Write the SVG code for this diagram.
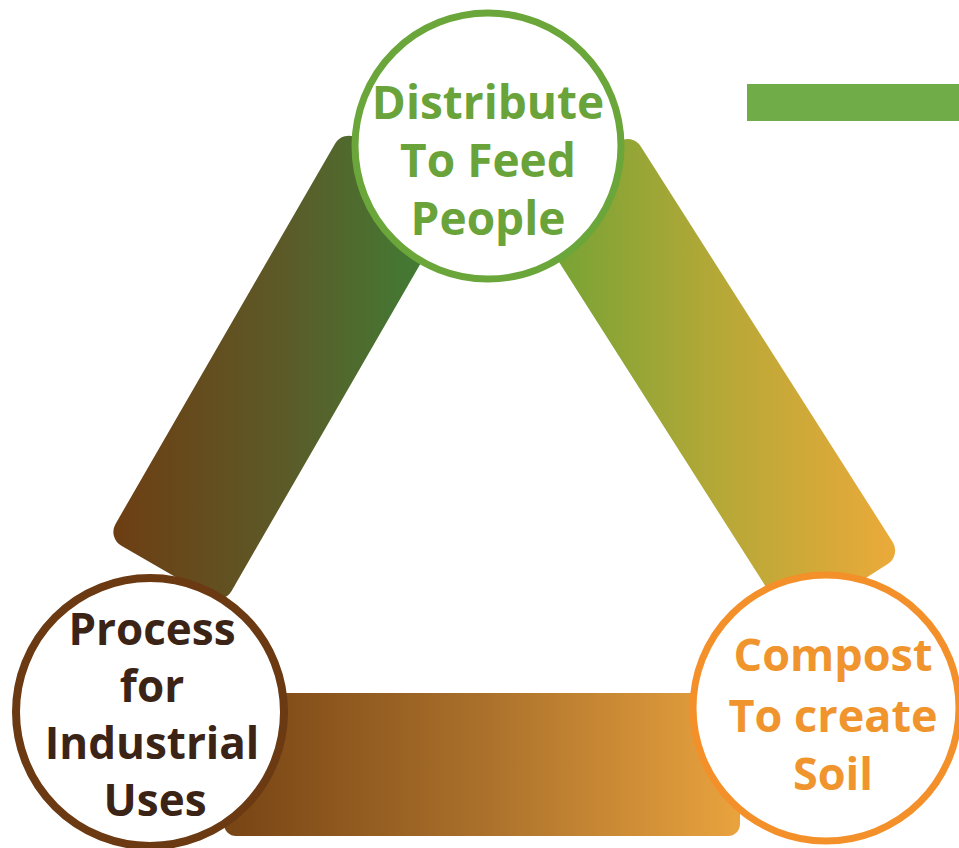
<svg xmlns="http://www.w3.org/2000/svg" width="959" height="848" viewBox="0 0 959 848">
  <style>
    .node-circle { fill: #ffffff; stroke-width: 7; }
    .label { font-family: "Open Sans", "Noto Sans", "Liberation Sans", sans-serif; font-weight: bold; text-anchor: middle; }
    .green-c { stroke: #6aa63a; }
    .brown-c { stroke: #6b3a12; stroke-width: 8; }
    .orange-c { stroke: #f4902a; }
    .green-t { fill: #69a33a; font-size: 46px; }
    .brown-t { fill: #3b2416; font-size: 44px; }
    .orange-t { fill: #f0952e; font-size: 45px; }
  </style>
  <defs>
    <linearGradient id="gL" gradientUnits="userSpaceOnUse" x1="107" y1="0" x2="460" y2="0">
      <stop offset="0" stop-color="#6e3d12"/>
      <stop offset="0.5" stop-color="#5c5a28"/>
      <stop offset="1" stop-color="#3b8438"/>
    </linearGradient>
    <linearGradient id="gR" gradientUnits="userSpaceOnUse" x1="521" y1="0" x2="905" y2="0">
      <stop offset="0" stop-color="#6aa234"/>
      <stop offset="0.5" stop-color="#b3a837"/>
      <stop offset="1" stop-color="#eeaa3a"/>
    </linearGradient>
    <linearGradient id="gB" gradientUnits="userSpaceOnUse" x1="224" y1="0" x2="740" y2="0">
      <stop offset="0" stop-color="#774414"/>
      <stop offset="0.5" stop-color="#aa702b"/>
      <stop offset="1" stop-color="#e9a33e"/>
    </linearGradient>
    <clipPath id="clipL">
      <rect transform="translate(283.3,367.3) rotate(30)" x="-67" y="-235.5" width="134" height="471" rx="16"/>
    </clipPath>
    <clipPath id="clipR">
      <rect transform="translate(711.4,379.3) rotate(-32.5)" x="-65.5" y="-250.5" width="131" height="501" rx="16"/>
    </clipPath>
  </defs>

  <rect x="0" y="0" width="959" height="848" fill="#ffffff"/>

  <rect id="accent-bar" x="747" y="84" width="212" height="37" fill="#70ac48"/>

  <g id="connectors">
    <rect x="90" y="110" width="390" height="510" fill="url(#gL)" clip-path="url(#clipL)"/>
    <rect x="500" y="110" width="420" height="530" fill="url(#gR)" clip-path="url(#clipR)"/>
    <rect x="224" y="693" width="516" height="143" rx="12" fill="url(#gB)"/>
  </g>

  <g id="node-distribute">
    <circle class="node-circle green-c" cx="488" cy="146" r="133"/>
    <text class="label green-t" x="488" y="119">Distribute</text>
    <text class="label green-t" x="488" y="177">To Feed</text>
    <text class="label green-t" x="488" y="235">People</text>
  </g>

  <g id="node-process">
    <circle class="node-circle brown-c" cx="150" cy="712" r="134"/>
    <text class="label brown-t" x="152" y="645">Process</text>
    <text class="label brown-t" x="152" y="702">for</text>
    <text class="label brown-t" x="152" y="759">Industrial</text>
    <text class="label brown-t" x="155" y="816">Uses</text>
  </g>

  <g id="node-compost">
    <circle class="node-circle orange-c" cx="826" cy="708" r="133"/>
    <text class="label orange-t" x="833" y="671">Compost</text>
    <text class="label orange-t" x="833" y="732">To create</text>
    <text class="label orange-t" x="833" y="790">Soil</text>
  </g>
</svg>
